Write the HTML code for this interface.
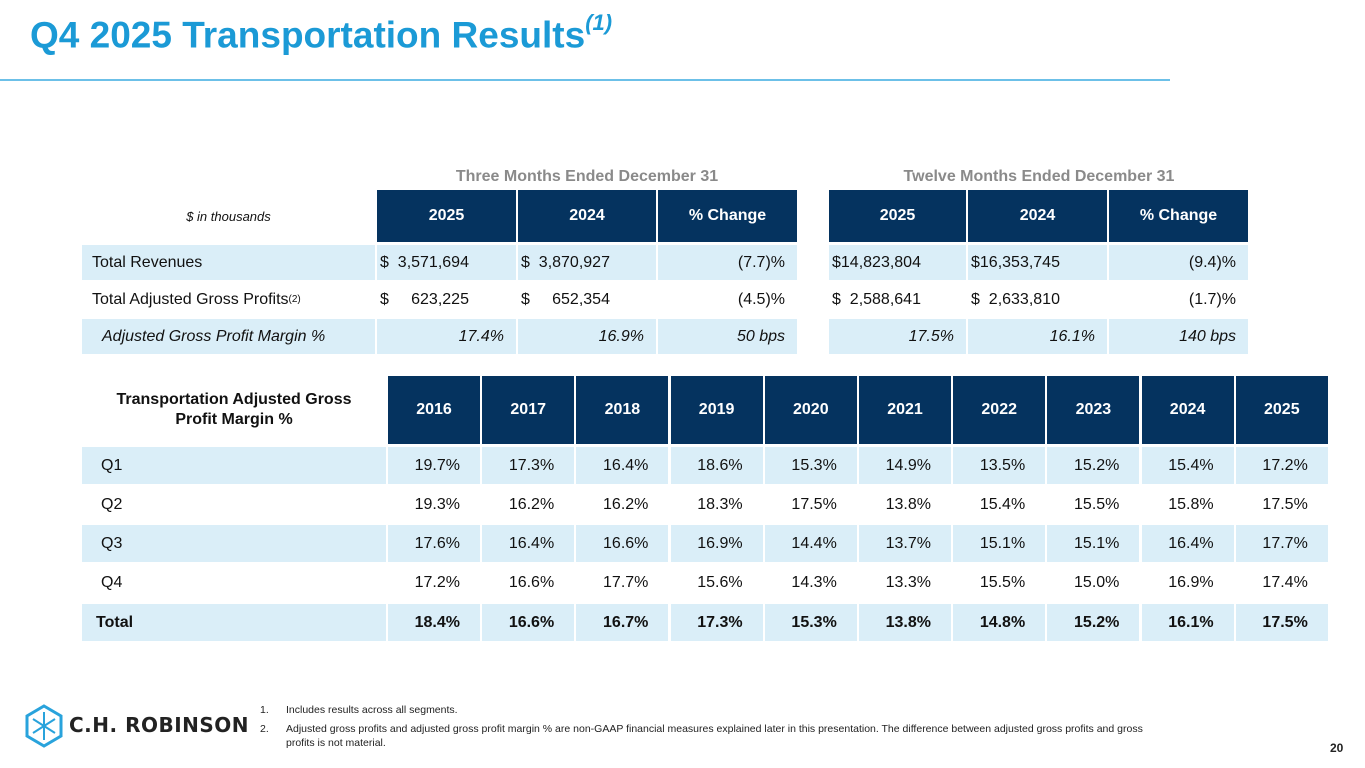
<!DOCTYPE html>
<html><head><meta charset="utf-8"><style>
body{margin:0;width:1365px;height:768px;background:#fff;position:relative;overflow:hidden;font-family:"Liberation Sans",Arial,sans-serif;}
.a{position:absolute;box-sizing:border-box;}
.c{position:absolute;box-sizing:border-box;display:flex;align-items:center;font-size:16px;color:#111;}
.h{background:#05335f;color:#fff;font-weight:bold;justify-content:center;}
.l{background:#daeef8;}
.r{justify-content:flex-end;padding-right:12px;}
</style></head><body>
<div class="a" style="left:30px;top:14px;font-size:37px;font-weight:bold;color:#1b9ad6;">Q4 2025 Transportation Results<sup style="font-size:22px;font-style:italic;position:relative;top:-4px;">(1)</sup></div>
<div class="a" style="left:0;top:79px;width:1170px;height:2px;background:#6cc0e8;"></div>

<div class="a" style="left:377px;top:168px;width:420px;text-align:center;font-size:16px;font-weight:bold;color:#8a8a8a;">Three Months Ended December 31</div>
<div class="a" style="left:829px;top:168px;width:420px;text-align:center;font-size:16px;font-weight:bold;color:#8a8a8a;">Twelve Months Ended December 31</div>
<div id="top"></div>
<div id="bot"></div>

<div class="a" style="left:24px;top:704px;">
<svg width="40" height="44" viewBox="0 0 40 44"><polygon points="20,2 37,12 37,32 20,42 3,32 3,12" fill="none" stroke="#29a3dc" stroke-width="3"/><path d="M20 8v28M9 15l22 14M31 15L9 29" stroke="#29a3dc" stroke-width="2"/></svg>
</div>
<div class="a" style="left:69px;top:713px;font-size:20px;font-weight:bold;color:#222;letter-spacing:0.5px;font-family:'DejaVu Sans',sans-serif;">C.H. ROBINSON</div>
<div class="a" style="left:260px;top:703px;width:905px;font-size:10.5px;color:#222;line-height:14px;">
<div style="display:flex;margin-bottom:5px"><span style="width:26px;flex:none">1.</span><span>Includes results across all segments.</span></div>
<div style="display:flex"><span style="width:26px;flex:none">2.</span><span>Adjusted gross profits and adjusted gross profit margin % are non-GAAP financial measures explained later in this presentation. The difference between adjusted gross profits and gross profits is not material.</span></div>
</div>
<div class="a" style="left:1330px;top:741px;font-size:12px;font-weight:bold;color:#222;">20</div>

<script>
function cell(parent,x,y,w,h,cls,html,name,style){
  var d=document.createElement('div');
  d.className='c '+cls;
  d.style.left=x+'px';d.style.top=y+'px';d.style.width=w+'px';d.style.height=h+'px';
  if(style)d.style.cssText+=style;
  d.innerHTML=html;
  
  
  parent.appendChild(d);return d;
}
var top1=document.getElementById('top');
var topCols=[[377,139],[518,138],[658,139],[829,137],[968,139],[1109,139]];
var topHdr=['2025','2024','% Change','2025','2024','% Change'];
var topRowsY=[[245,35],[282,35],[319,35]];
var topLabels=['Total Revenues','Total Adjusted Gross Profits<sup style="font-size:10px">(2)</sup>','Adjusted Gross Profit Margin %'];
var topVals=[
 ['$&nbsp;&nbsp;3,571,694','$&nbsp;&nbsp;3,870,927','(7.7)%','$14,823,804','$16,353,745','(9.4)%'],
 ['$&nbsp;&nbsp;&nbsp;&nbsp;&nbsp;623,225','$&nbsp;&nbsp;&nbsp;&nbsp;&nbsp;652,354','(4.5)%','$&nbsp;&nbsp;2,588,641','$&nbsp;&nbsp;2,633,810','(1.7)%'],
 ['17.4%','16.9%','50 bps','17.5%','16.1%','140 bps']];
cell(top1,82,190,293,52,'','<i style="font-size:13px;width:100%;text-align:center">$ in thousands</i>','units-label');
topCols.forEach(function(c,i){cell(top1,c[0],190,c[1],52,'h',topHdr[i],'top-header-'+i);});
topRowsY.forEach(function(r,ri){
  var bg=ri!==1?' l':'';
  cell(top1,82,r[0],293,r[1],bg,topLabels[ri],'top-row-label-'+ri,'padding-left:'+(ri==2?20:10)+'px;'+(ri==2?'font-style:italic;':''));
  topCols.forEach(function(c,i){
    var v=topVals[ri][i];
    var right=(ri==2||i==2||i==5);
    cell(top1,c[0],r[0],c[1],r[1],bg+(right?' r':''),v,'top-cell-'+ri+'-'+i,(right?'':'padding-left:3px;')+(ri==2?'font-style:italic;':''));
  });
});

var bot=document.getElementById('bot');
var years=['2016','2017','2018','2019','2020','2021','2022','2023','2024','2025'];
var quarters=['Q1','Q2','Q3','Q4','Total'];
var q1=['19.7%','17.3%','16.4%','18.6%','15.3%','14.9%','13.5%','15.2%','15.4%','17.2%'];
var q2=['19.3%','16.2%','16.2%','18.3%','17.5%','13.8%','15.4%','15.5%','15.8%','17.5%'];
var q3=['17.6%','16.4%','16.6%','16.9%','14.4%','13.7%','15.1%','15.1%','16.4%','17.7%'];
var q4=['17.2%','16.6%','17.7%','15.6%','14.3%','13.3%','15.5%','15.0%','16.9%','17.4%'];
var tot=['18.4%','16.6%','16.7%','17.3%','15.3%','13.8%','14.8%','15.2%','16.1%','17.5%'];
var series=[q1,q2,q3,q4,tot];
var rowY=[[447,37],[486,37],[525,37],[564,37],[604,37]];
cell(bot,82,376,304,68,'','<b style="width:100%;text-align:center;font-size:16px;line-height:20px">Transportation Adjusted Gross<br>Profit Margin %</b>','margin-table-title');
years.forEach(function(y,i){cell(bot,388+i*94.2,376,92,68,'h',y,'year-header-'+y);});
series.forEach(function(vals,ri){
  var bg=(ri%2===0)?' l':'';
  var bold=ri===4?'font-weight:bold;':'';
  cell(bot,82,rowY[ri][0],304,rowY[ri][1],bg,quarters[ri],'row-label-'+quarters[ri],'padding-left:'+(ri===4?14:19)+'px;'+bold);
  vals.forEach(function(v,i){
    cell(bot,388+i*94.2,rowY[ri][0],92,rowY[ri][1],bg+' r',v,'cell-'+quarters[ri]+'-'+years[i],'padding-right:20px;'+bold);
  });
});
</script>
</body></html>
